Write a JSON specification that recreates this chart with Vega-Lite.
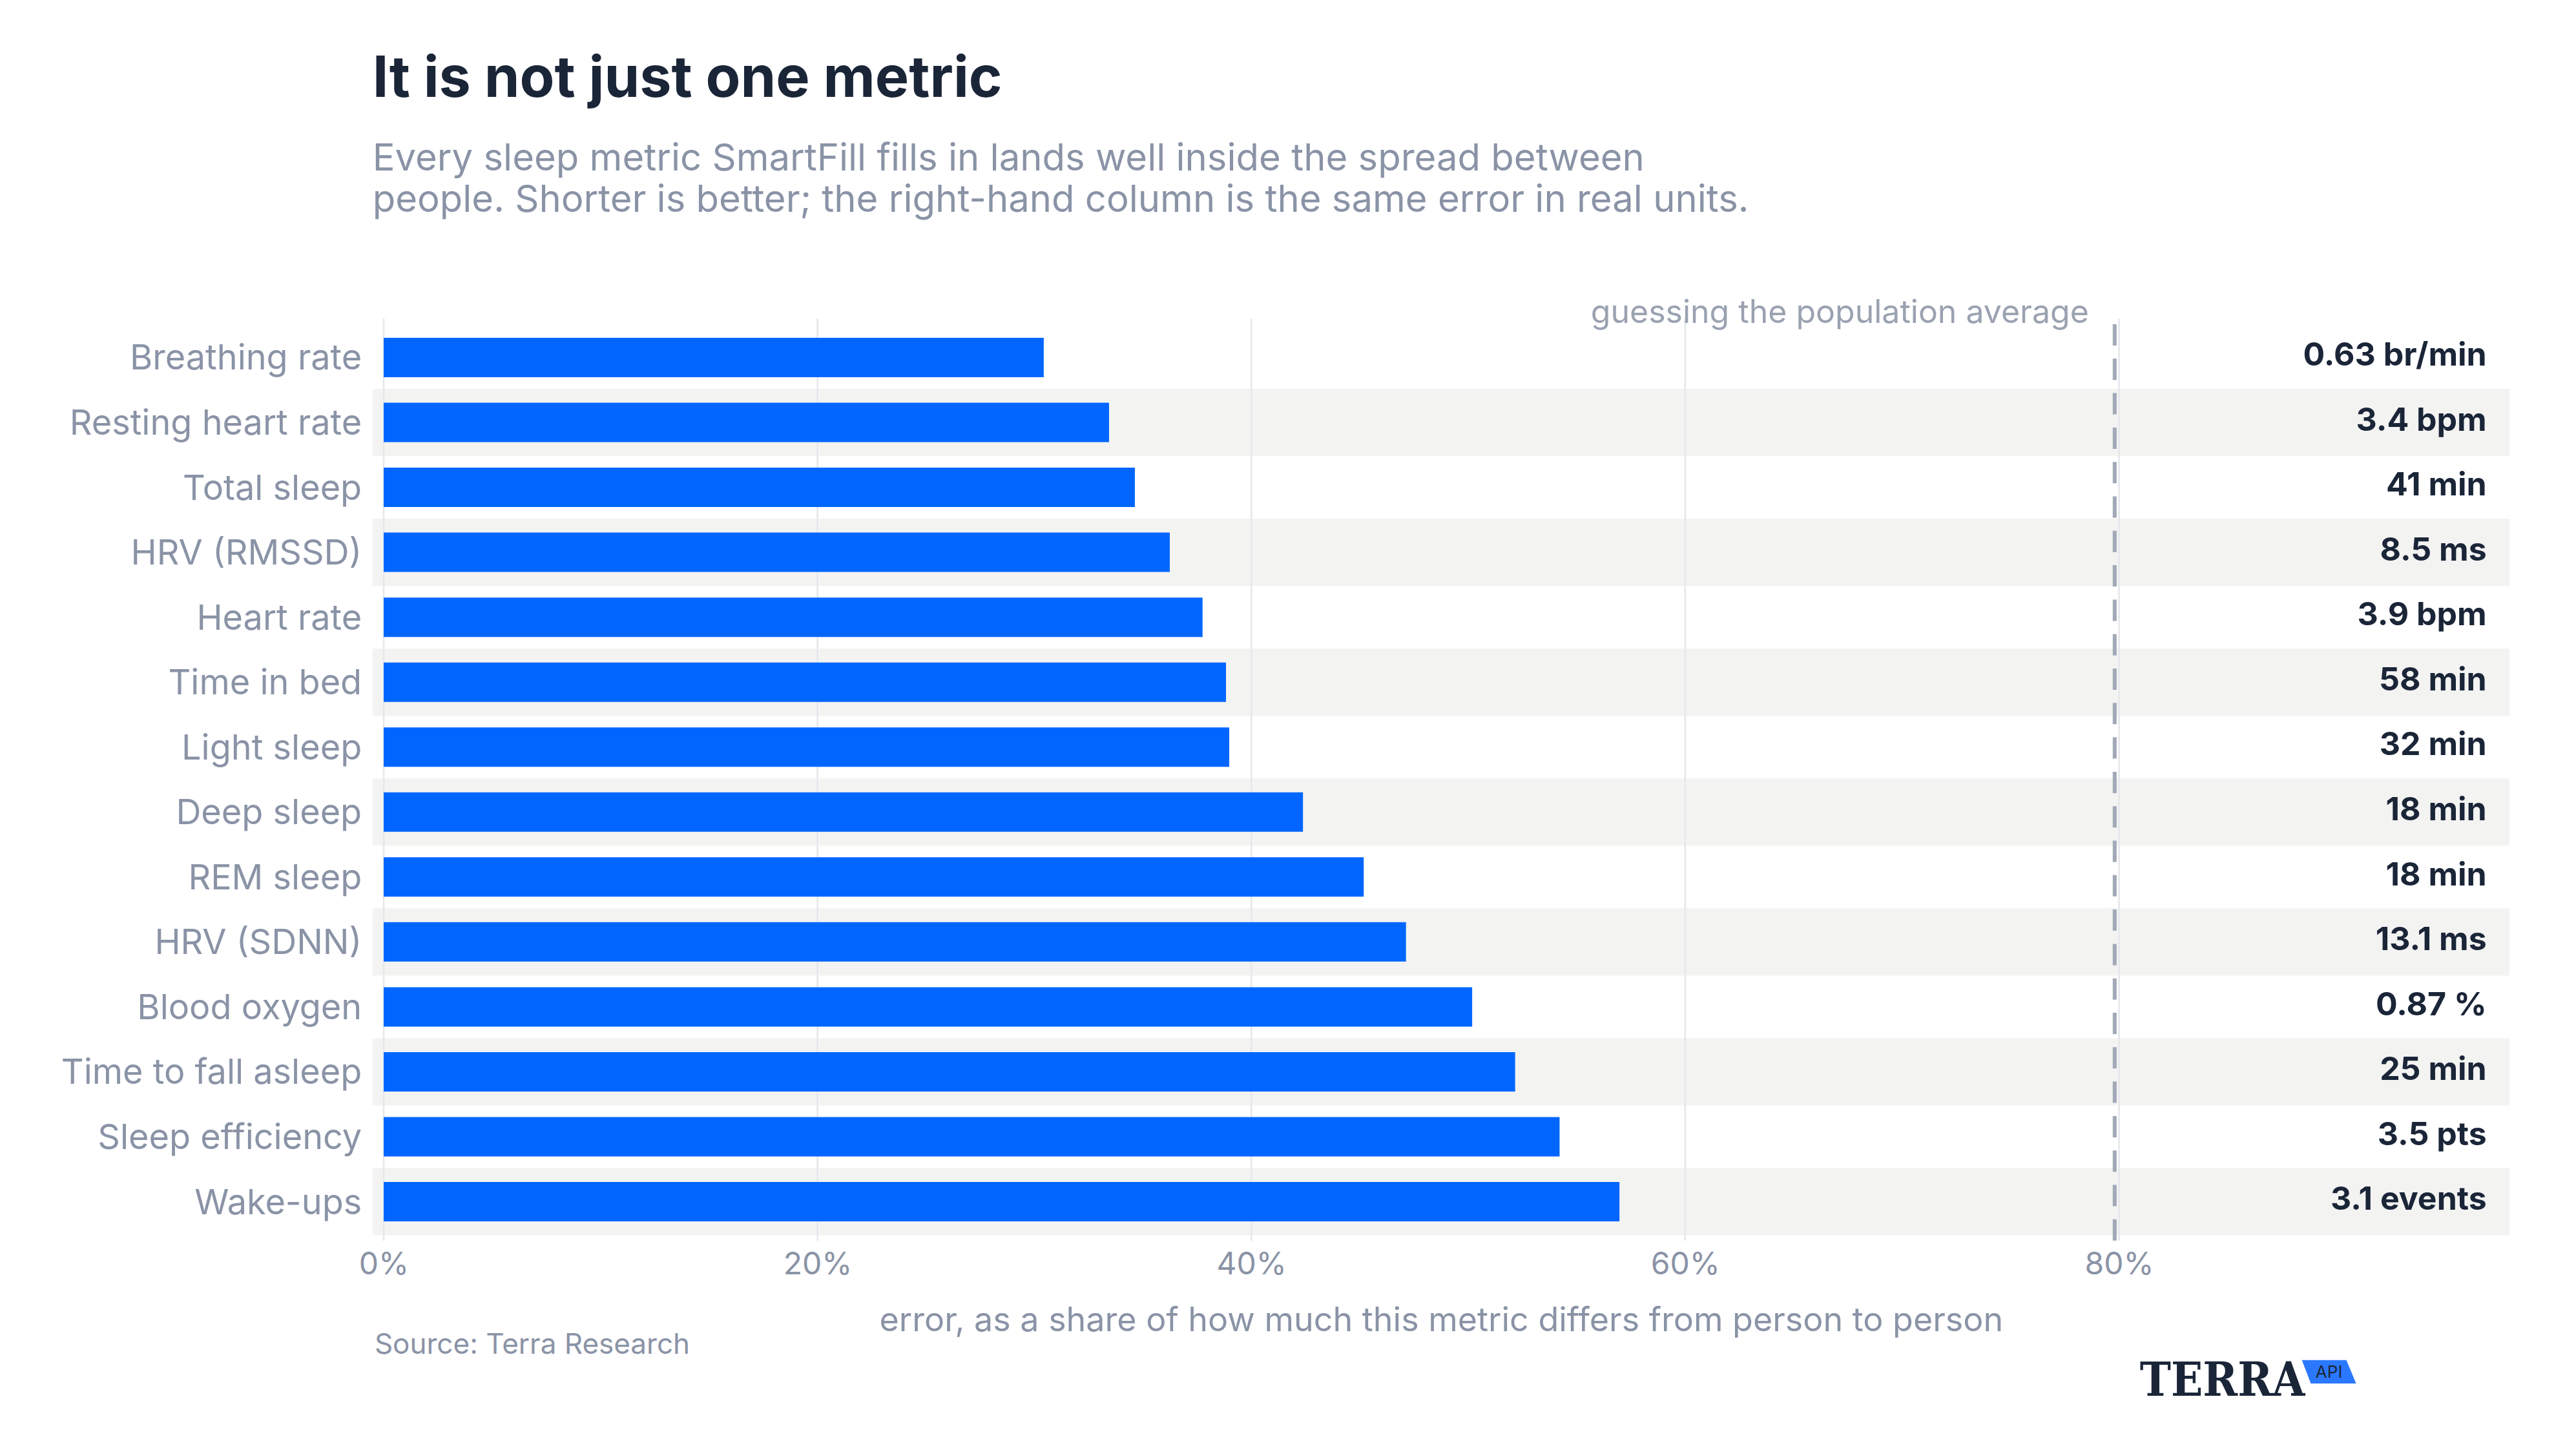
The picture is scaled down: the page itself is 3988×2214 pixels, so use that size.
{
  "$schema": "https://vega.github.io/schema/vega-lite/v6.json",
  "width": 3308.3,
  "height": 1428,
  "autosize": "none",
  "padding": {"left": 576.7, "top": 493, "right": 103, "bottom": 293},
  "background": "white",
  "title": {
    "text": "It is not just one metric",
    "subtitle": [
      "Every sleep metric SmartFill fills in lands well inside the spread between",
      "people. Shorter is better; the right-hand column is the same error in real units."
    ],
    "anchor": "start",
    "frame": "group",
    "offset": 120,
    "font": "Inter",
    "fontSize": 88,
    "fontWeight": 700,
    "color": "#1b2538",
    "subtitleFont": "Inter",
    "subtitleFontSize": 58,
    "subtitleFontWeight": 400,
    "subtitleColor": "#8a93a6",
    "subtitleLineHeight": 64,
    "subtitlePadding": 50
  },
  "datasets": {
    "rows": [
      {"metric": "Breathing rate", "err": 30.43, "unit": "0.63 br/min"},
      {"metric": "Resting heart rate", "err": 33.44, "unit": "3.4 bpm"},
      {"metric": "Total sleep", "err": 34.63, "unit": "41 min"},
      {"metric": "HRV (RMSSD)", "err": 36.24, "unit": "8.5 ms"},
      {"metric": "Heart rate", "err": 37.75, "unit": "3.9 bpm"},
      {"metric": "Time in bed", "err": 38.83, "unit": "58 min"},
      {"metric": "Light sleep", "err": 38.98, "unit": "32 min"},
      {"metric": "Deep sleep", "err": 42.38, "unit": "18 min"},
      {"metric": "REM sleep", "err": 45.18, "unit": "18 min"},
      {"metric": "HRV (SDNN)", "err": 47.13, "unit": "13.1 ms"},
      {"metric": "Blood oxygen", "err": 50.18, "unit": "0.87 %"},
      {"metric": "Time to fall asleep", "err": 52.16, "unit": "25 min"},
      {"metric": "Sleep efficiency", "err": 54.21, "unit": "3.5 pts"},
      {"metric": "Wake-ups", "err": 56.97, "unit": "3.1 events"}
    ],
    "ticks": [{"v": 0}, {"v": 20}, {"v": 40}, {"v": 60}, {"v": 80}],
    "one": [{}]
  },
  "data": {"name": "rows"},
  "layer": [
    {
      "transform": [
        {"window": [{"op": "row_number", "as": "rank"}]},
        {"filter": "datum.rank % 2 == 0"}
      ],
      "mark": {"type": "bar", "color": "#f3f3f2", "height": {"band": 1.705}},
      "encoding": {
        "y": {"field": "metric", "type": "nominal", "title": null},
        "x": {"datum": -0.515, "type": "quantitative"},
        "x2": {"datum": 98.0}
      }
    },
    {
      "data": {"name": "ticks"},
      "mark": {"type": "rule", "color": "#e6e8ec", "strokeWidth": 2.7},
      "encoding": {
        "x": {
          "field": "v",
          "type": "quantitative",
          "title": "error, as a share of how much this metric differs from person to person"
        }
      }
    },
    {
      "mark": {"type": "bar", "color": "#0066ff"},
      "encoding": {
        "y": {
          "field": "metric",
          "type": "nominal",
          "title": null,
          "scale": {
            "domain": [
              "Breathing rate", "Resting heart rate", "Total sleep", "HRV (RMSSD)",
              "Heart rate", "Time in bed", "Light sleep", "Deep sleep", "REM sleep",
              "HRV (SDNN)", "Blood oxygen", "Time to fall asleep", "Sleep efficiency", "Wake-ups"
            ],
            "paddingInner": 0.393,
            "paddingOuter": 0.298
          }
        },
        "x": {
          "field": "err",
          "type": "quantitative",
          "scale": {"domain": [-0.515, 98.0], "nice": false, "zero": false},
          "title": "error, as a share of how much this metric differs from person to person",
          "axis": {
            "values": [0, 20, 40, 60, 80],
            "labelExpr": "datum.value + '%'"
          }
        }
      }
    },
    {
      "data": {"name": "one"},
      "mark": {
        "type": "rule",
        "color": "#a1a8b7",
        "strokeWidth": 6,
        "strokeDash": [33, 20.3],
        "strokeDashOffset": 44.3
      },
      "encoding": {
        "x": {"datum": 79.8, "type": "quantitative"}
      }
    },
    {
      "mark": {
        "type": "text",
        "align": "right",
        "baseline": "alphabetic",
        "dy": 12.7,
        "font": "Inter",
        "fontSize": 50,
        "fontWeight": 700,
        "color": "#1b2538"
      },
      "encoding": {
        "y": {"field": "metric", "type": "nominal", "title": null},
        "x": {"datum": 96.95, "type": "quantitative"},
        "text": {"field": "unit"}
      }
    },
    {
      "data": {"name": "one"},
      "mark": {
        "type": "text",
        "align": "right",
        "baseline": "alphabetic",
        "dx": -40,
        "dy": -53.4,
        "font": "Inter",
        "fontSize": 50,
        "color": "#9aa2b1"
      },
      "encoding": {
        "y": {"datum": "Breathing rate", "type": "nominal"},
        "x": {"datum": 79.8, "type": "quantitative"},
        "text": {"value": "guessing the population average"}
      }
    },
    {
      "data": {"name": "one"},
      "mark": {
        "type": "text",
        "align": "left",
        "baseline": "alphabetic",
        "dy": 235.5,
        "font": "Inter",
        "fontSize": 44,
        "color": "#8a93a6"
      },
      "encoding": {
        "y": {"datum": "Wake-ups", "type": "nominal"},
        "x": {"datum": -0.42, "type": "quantitative"},
        "text": {"value": "Source: Terra Research"}
      }
    },
    {
      "data": {"name": "one"},
      "mark": {
        "type": "text",
        "align": "left",
        "baseline": "alphabetic",
        "dy": 300.2,
        "font": "DejaVu Serif Condensed, DejaVu Serif",
        "fontSize": 72,
        "fontWeight": 900,
        "color": "#1b2538"
      },
      "encoding": {
        "y": {"datum": "Wake-ups", "type": "nominal"},
        "x": {"datum": 80.96, "type": "quantitative"},
        "text": {"value": "TERRA"}
      }
    },
    {
      "data": {"name": "one"},
      "mark": {
        "type": "point",
        "shape": "M -1 -0.43 L 0.64 -0.43 L 1 0.43 L -0.67 0.43 Z",
        "size": 7056,
        "filled": true,
        "opacity": 1,
        "color": "#2a78ff",
        "yOffset": 263.4
      },
      "encoding": {
        "y": {"datum": "Wake-ups", "type": "nominal"},
        "x": {"datum": 89.68, "type": "quantitative"}
      }
    },
    {
      "data": {"name": "one"},
      "mark": {
        "type": "text",
        "align": "center",
        "baseline": "alphabetic",
        "dy": 272,
        "font": "Inter",
        "fontSize": 26,
        "color": "#1b2538"
      },
      "encoding": {
        "y": {"datum": "Wake-ups", "type": "nominal"},
        "x": {"datum": 89.68, "type": "quantitative"},
        "text": {"value": "API"}
      }
    }
  ],
  "config": {
    "view": {"stroke": null},
    "font": "Inter",
    "axisY": {
      "domain": false,
      "ticks": false,
      "tickSize": 0,
      "grid": false,
      "labelPadding": 17,
      "labelFont": "Inter",
      "labelFontSize": 54,
      "labelColor": "#8a93a6",
      "labelBaseline": "alphabetic",
      "labelOffset": 19,
      "labelLimit": 1000
    },
    "axisX": {
      "grid": false,
      "domain": false,
      "ticks": false,
      "tickSize": 0,
      "labelFont": "Inter",
      "labelFontSize": 48,
      "labelColor": "#8a93a6",
      "labelBaseline": "alphabetic",
      "labelPadding": 51,
      "labelFlush": false,
      "titleFont": "Inter",
      "titleFontSize": 52,
      "titleFontWeight": 400,
      "titleColor": "#8a93a6",
      "titleBaseline": "alphabetic",
      "titlePadding": 78
    }
  }
}
